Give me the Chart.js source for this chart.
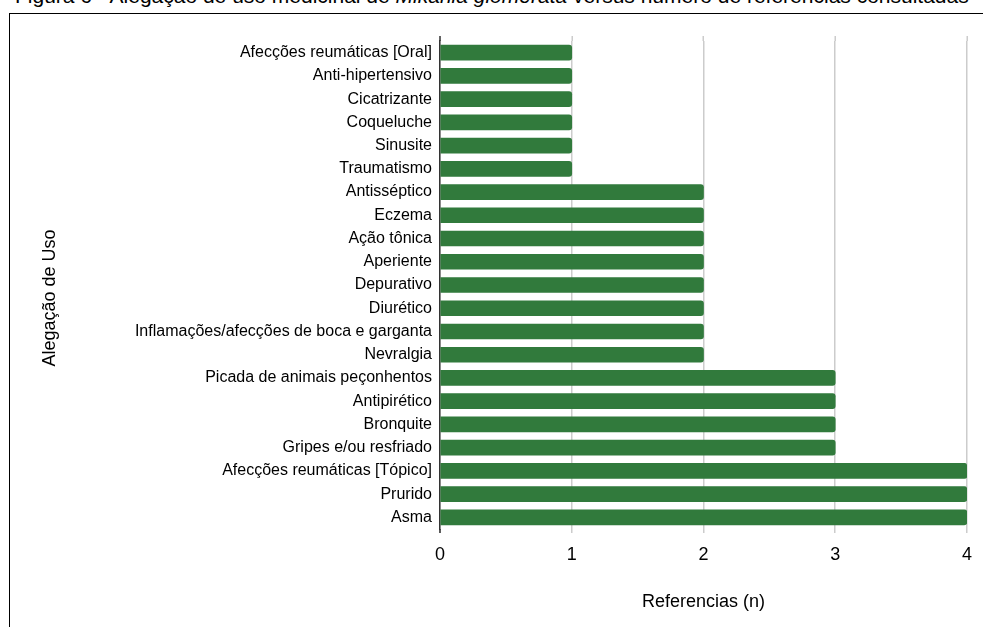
<!DOCTYPE html>
<html>
<head>
<meta charset="utf-8">
<script src="https://cdn.jsdelivr.net/npm/chart.js@4"></script>
<style>
  html, body { margin: 0; padding: 0; background: #fff; overflow: hidden; }
  body { width: 983px; height: 627px; position: relative; font-family: "Liberation Sans", Arial, sans-serif; }
  #caption { position: absolute; left: 15px; top: -15px; font-size: 21px; line-height: 21px; white-space: nowrap; color: #000; }
  #frame { position: absolute; left: 9px; top: 13px; width: 1000px; height: 700px; border: 1px solid #000; }
  #wrap { position: absolute; left: 0; top: 0; width: 983px; height: 627px; }
</style>
</head>
<body>
<div id="caption">Figura 6 - Alegação de uso medicinal de <i>Mikania glomerata</i> versus número de referências consultadas</div>
<div id="frame"></div>
<div id="wrap"><canvas id="usoChart"></canvas></div>
<script>
// ---- data ----
const usoLabels = [
    "Afecções reumáticas [Oral]",
    "Anti-hipertensivo",
    "Cicatrizante",
    "Coqueluche",
    "Sinusite",
    "Traumatismo",
    "Antisséptico",
    "Eczema",
    "Ação tônica",
    "Aperiente",
    "Depurativo",
    "Diurético",
    "Inflamações/afecções de boca e garganta",
    "Nevralgia",
    "Picada de animais peçonhentos",
    "Antipirético",
    "Bronquite",
    "Gripes e/ou resfriado",
    "Afecções reumáticas [Tópico]",
    "Prurido",
    "Asma"
];

const referenciasValues = [1, 1, 1, 1, 1, 1, 2, 2, 2, 2, 2, 2, 2, 2, 3, 3, 3, 3, 4, 4, 4];

const xTicks = [0, 1, 2, 3, 4];

const fontFamily = '"Liberation Sans", Arial, sans-serif';

// y title drawn by hand so it can sit a bit lower than the scale centre,
// plus the short stubs of the grid above the plot area
const extrasPlugin = {
    id: "extras",
    afterDraw(chart) {
        const ctx = chart.ctx;
        const area = chart.chartArea;
        const xScale = chart.scales.x;

        ctx.save();
        ctx.strokeStyle = "#cccccc";
        ctx.lineWidth = 1.5;
        xTicks.slice(1).forEach(v => {
            const px = Math.round(xScale.getPixelForValue(v)) + 0.25;
            ctx.beginPath();
            ctx.moveTo(px, area.top - 5);
            ctx.lineTo(px, area.top);
            ctx.stroke();
        });
        ctx.strokeStyle = "#333";
        const x0 = xScale.getPixelForValue(xTicks[0]);
        ctx.beginPath();
        ctx.moveTo(x0, area.top - 5);
        ctx.lineTo(x0, area.top);
        ctx.moveTo(x0, area.bottom);
        ctx.lineTo(x0, area.bottom + 4);
        ctx.stroke();

        ctx.translate(50, (area.top + area.bottom) / 2 + 13);
        ctx.rotate(-Math.PI / 2);
        ctx.fillStyle = "#000";
        ctx.font = "18px " + fontFamily;
        ctx.textAlign = "center";
        ctx.textBaseline = "middle";
        ctx.fillText("Alegação de Uso", 0, 0);
        ctx.restore();
    }
};

new Chart(document.getElementById("usoChart"), {

    type: "bar",

    data: {
        labels: usoLabels,
        datasets: [{
            label: "Referencias (n)",
            data: referenciasValues,
            backgroundColor: "#317a3c",
            barThickness: 15,
            borderRadius: 3
        }]
    },

    options: {
        indexAxis: "y",
        responsive: true,
        maintainAspectRatio: false,
        animation: false,
        layout: {
            padding: { left: 0, right: 16, top: 41, bottom: 0 }
        },
        plugins: {
            legend: { display: false },
            tooltip: { enabled: false }
        },
        scales: {
            x: {
                min: xTicks[0],
                max: xTicks[xTicks.length - 1],
                afterBuildTicks: scale => {
                    scale.ticks = xTicks.map(v => ({ value: v }));
                },
                afterFit: scale => { scale.height = 98; },
                grid: {
                    color: "#cccccc",
                    lineWidth: 1.5,
                    tickLength: 4,
                    tickColor: "#cccccc"
                },
                border: { display: false },
                ticks: {
                    color: "#000",
                    padding: 11,
                    font: { family: fontFamily, size: 18 }
                },
                title: {
                    display: true,
                    text: "Referencias (n)",
                    color: "#000",
                    padding: { top: 0, bottom: 14 },
                    font: { family: fontFamily, size: 18 }
                }
            },
            y: {
                afterFit: scale => { scale.width = 440; },
                grid: { display: false, drawTicks: false },
                border: { display: true, color: "#333", width: 1.5 },
                ticks: {
                    color: "#000",
                    padding: 8,
                    autoSkip: false,
                    font: { family: fontFamily, size: 16 }
                },
                title: { display: false }
            }
        }
    },

    plugins: [extrasPlugin]

});
</script>
</body>
</html>
